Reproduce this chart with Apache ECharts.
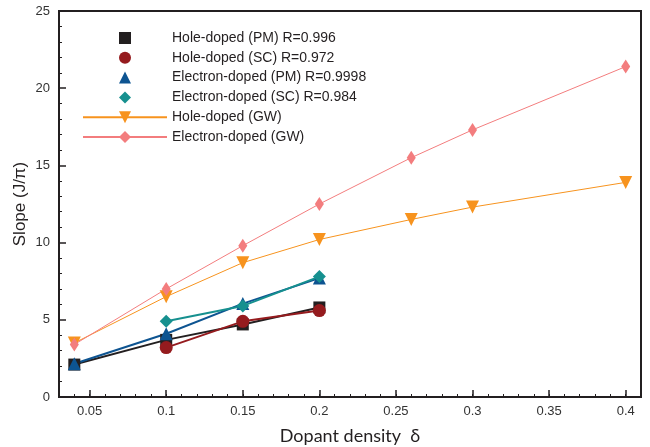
<!DOCTYPE html>
<html><head><meta charset="utf-8">
<script src="https://cdn.jsdelivr.net/npm/echarts@6/dist/echarts.min.js"></script>
<style>html,body{margin:0;padding:0;background:#fff}#c{width:650px;height:447px}</style>
</head><body><div id="c"></div>
<script>
const dopingPM = [0.04, 0.1, 0.15, 0.2];
const dopingSC = [0.1, 0.15, 0.2];
const dopingGW = [0.04, 0.1, 0.15, 0.2, 0.26, 0.3, 0.4];
const holePM = [2.1, 3.7, 4.7, 5.8];
const holeSC = [3.2, 4.9, 5.6];
const elecPM = [2.15, 4.1, 6.05, 7.7];
const elecSC = [4.9, 5.9, 7.8];
const holeGW = [3.5, 6.5, 8.7, 10.2, 11.5, 12.3, 13.9];
const elecGW = [3.4, 7.0, 9.8, 12.5, 15.5, 17.3, 21.4];
const names = ['Hole-doped (PM) R=0.996','Hole-doped (SC) R=0.972','Electron-doped (PM) R=0.9998','Electron-doped (SC) R=0.984','Hole-doped (GW)','Electron-doped (GW)'];
const xMajor = [0.05,0.1,0.15,0.2,0.25,0.3,0.35,0.4];

const zip = (xs, ys) => xs.map((x,i)=>[x, ys[i]]);
const chart = echarts.init(document.getElementById('c'));
const font = 'Liberation Sans, Arial, sans-serif';
function ser(name, xs, ys, color, symbol, size, lw, rot) {
  return {
    name, type:'line', data: zip(xs, ys), symbol, symbolSize: size, symbolRotate: rot||0,
    itemStyle:{color}, lineStyle:{color, width: lw}, emphasis:{disabled:true}, animation:false
  };
}
chart.setOption({
  animation:false,
  grid:{left:59, right:9, top:11, bottom:50, outerBoundsMode:'none', containLabel:false,
    show:true, borderColor:'#231f20', borderWidth:2},
  legend:{
    left:82, top:31, padding:0, orient:'vertical', itemWidth:84, itemHeight:15, itemGap:5.8,
    textStyle:{fontFamily:font, fontSize:14, color:'#231f20'},
    data: names.map((n,i)=> i<4 ? {name:n, lineStyle:{opacity:0}} : {name:n})
  },
  xAxis:[{
    type:'value', min:0.03, max:0.41, interval:0.01,
    axisLine:{lineStyle:{color:'#231f20', width:2}},
    axisTick:{inside:true, length:3, lineStyle:{color:'#231f20'}},
    splitLine:{show:false},
    axisLabel:{fontFamily:font, fontSize:13, color:'#333', margin:8,
      formatter: v => { const r = Math.round(v*100); return r%5===0 ? String(r/100) : ''; }},
    name:'Dopant density  δ', nameLocation:'middle', nameGap:30, nameMoveOverlap:false,
    nameTextStyle:{fontFamily:'Lato, Open Sans, sans-serif', fontSize:18, color:'#231f20'}
  },{
    type:'value', min:0.03, max:0.41, position:'bottom',
    axisLine:{show:false},
    axisTick:{inside:true, length:7, customValues: xMajor, lineStyle:{color:'#231f20', width:1.5}},
    axisLabel:{show:false}, splitLine:{show:false}
  }],
  yAxis:{
    type:'value', min:0, max:25, interval:5,
    axisLine:{show:true, lineStyle:{color:'#231f20', width:2}},
    axisTick:{show:true, inside:true, length:7, lineStyle:{color:'#231f20', width:1.5}},
    minorTick:{show:true, splitNumber:5, length:3, lineStyle:{color:'#231f20'}},
    splitLine:{show:false},
    axisLabel:{fontFamily:font, fontSize:13, color:'#333', margin:9},
    name:'Slope (J/π)', nameLocation:'middle', nameGap:30, nameRotate:90, nameMoveOverlap:false,
    nameTextStyle:{fontFamily:font, fontSize:17, color:'#231f20'}
  },
  series:[
    ser(names[0], dopingPM, holePM, '#231f20', 'rect', 12, 2),
    ser(names[1], dopingSC, holeSC, '#951b1e', 'circle', 13, 2),
    ser(names[2], dopingPM, elecPM, '#0d5491', 'triangle', 13, 2),
    ser(names[3], dopingSC, elecSC, '#16908f', 'diamond', 13, 2),
    ser(names[4], dopingGW, holeGW, '#f7931e', 'triangle', 13, 1, 180),
    ser(names[5], dopingGW, elecGW, '#f37d7e', 'diamond', [9,14], 1)
  ]
});
</script></body></html>
